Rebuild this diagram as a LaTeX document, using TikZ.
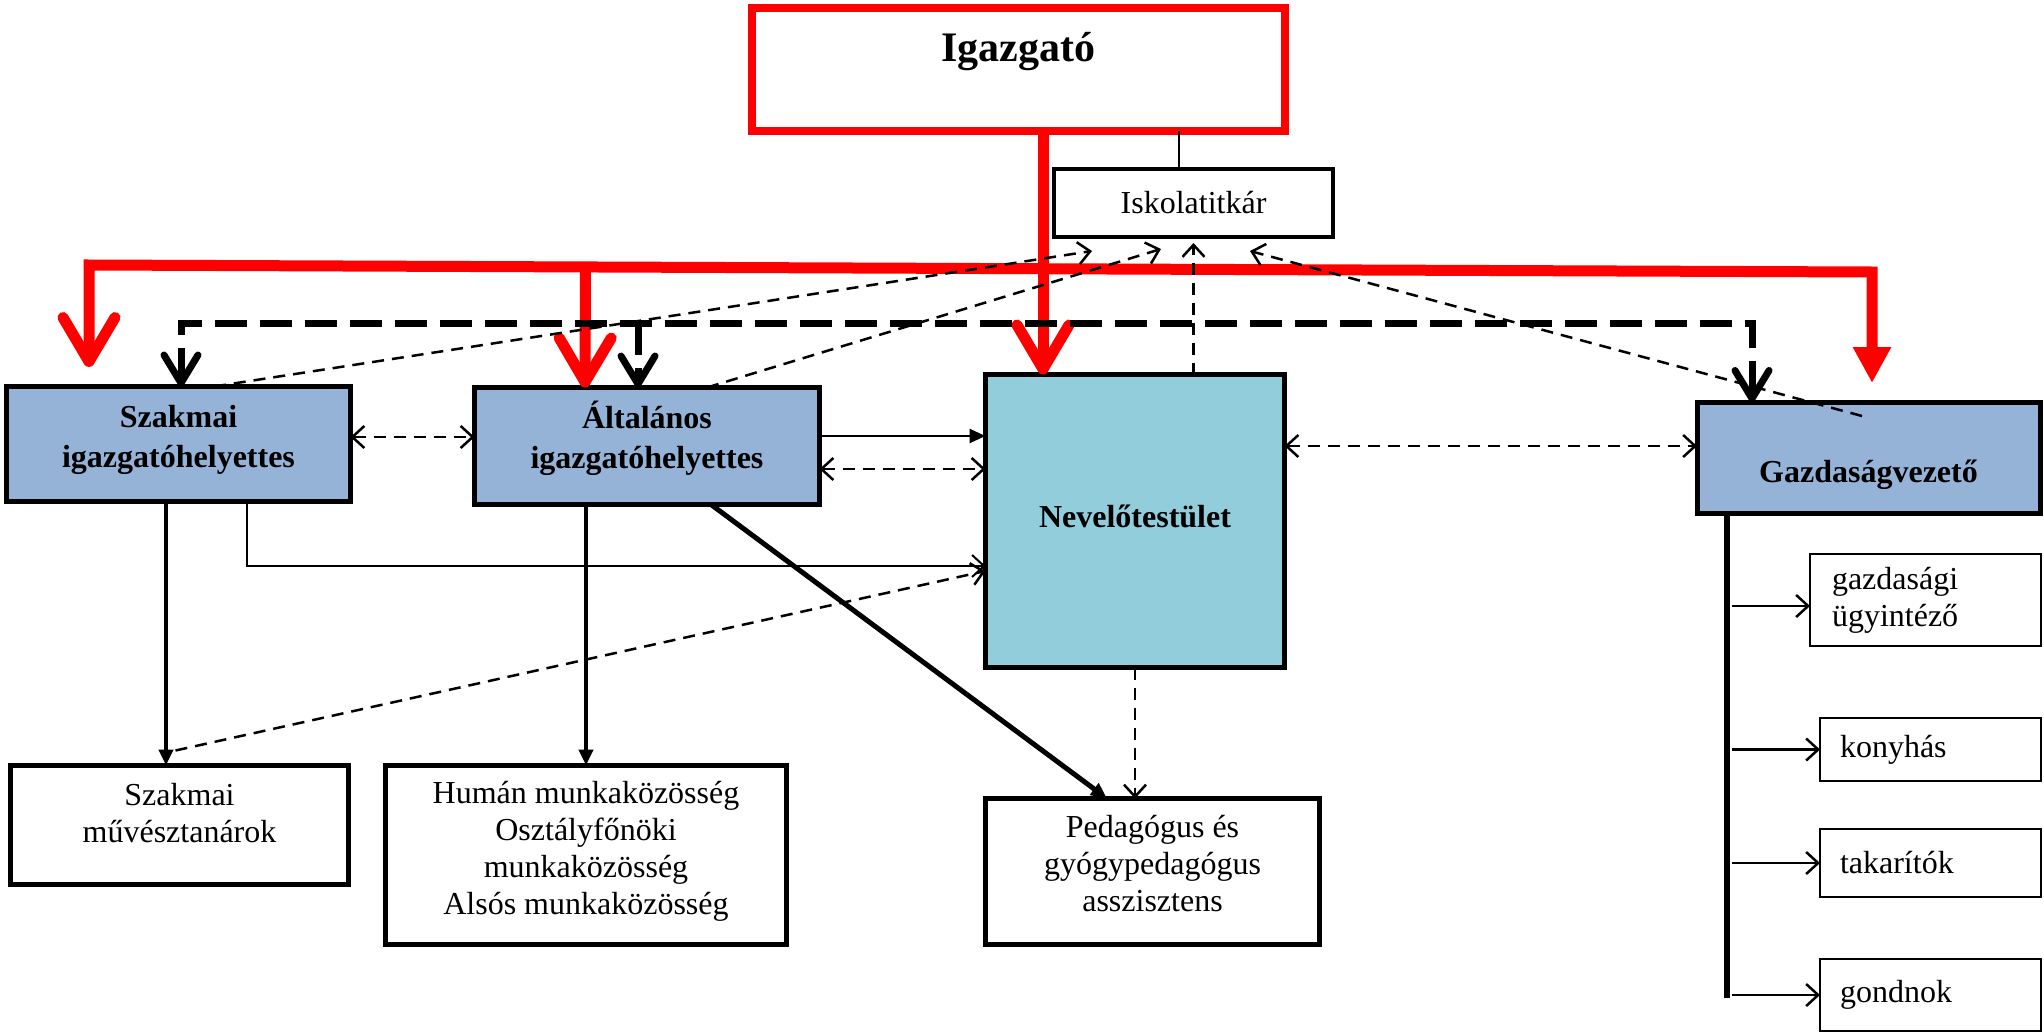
\documentclass[tikz,border=0pt]{standalone}
\usepackage{fontspec}
\setmainfont{Liberation Serif}
\usetikzlibrary{arrows.meta,calc}
\definecolor{boxblue}{HTML}{95B3D7}
\definecolor{nevblue}{HTML}{92CDDC}
\definecolor{ired}{HTML}{FF0000}
\tikzset{
  openV/.tip={Straight Barb[length=12pt,width=22pt]},
  bigV/.tip={Straight Barb[length=28pt,width=34pt,round]},
  redV/.tip={Straight Barb[length=44pt,width=52pt,round]},
  redT/.tip={Triangle[length=36pt,width=36pt]},
  solidT/.tip={Triangle[length=16pt,width=14pt]},
}
\begin{document}
\begin{tikzpicture}[x=1pt,y=-1pt,
  box/.style={draw=black,rectangle,inner sep=0pt,outer sep=0pt,align=center,line width=5pt},
  smallbox/.style={draw=black,rectangle,inner sep=0pt,outer sep=0pt,align=left,line width=2.5pt},
  rmtext/.style={font=\fontsize{32}{37}\selectfont},
  bftext/.style={font=\bfseries\fontsize{32}{40}\selectfont},
  redline/.style={draw=ired,line width=11pt},
  thickdash/.style={line width=7pt,dash pattern=on 32pt off 13pt},
  thindash/.style={line width=2.5pt,dash pattern=on 12pt off 8pt},
]
\useasboundingbox (0,0) rectangle (2044,1033);

% ---- nodes
\node[box, draw=ired, line width=8pt, minimum width=533pt, minimum height=123pt,
      font=\bfseries\fontsize{42}{48}\selectfont, text height=30pt, text depth=45pt]
      (ig) at (1018.5,69.5) {Igazgató};
\node[box, line width=4pt, minimum width=279pt, minimum height=68pt, rmtext]
      (isk) at (1193.5,203) {Iskolatitkár};
\node[box, fill=boxblue, minimum width=344pt, minimum height=115pt,
      label={[name=szht, bftext, align=center, yshift=4pt]center:Szakmai\\igazgatóhelyettes}]
      (szh) at (178.5,444) {};
\node[box, fill=boxblue, minimum width=345pt, minimum height=117pt,
      label={[name=altt, bftext, align=center, yshift=8pt]center:Általános\\igazgatóhelyettes}]
      (alt) at (647,446) {};
\node[box, fill=nevblue, minimum width=299pt, minimum height=293pt, bftext,
      text height=24pt, text depth=12pt]
      (nev) at (1135,521) {Nevelőtestület};
\node[box, fill=boxblue, minimum width=343pt, minimum height=111pt, bftext,
      text height=55pt, text depth=6pt]
      (gazd) at (1868.5,457.5) {Gazdaságvezető};
\node[box, minimum width=338pt, minimum height=119pt,
      label={[name=szmt, rmtext, align=center, yshift=12pt]center:Szakmai\\művésztanárok}]
      (szm) at (179.5,825) {};
\node[box, minimum width=401pt, minimum height=179pt,
      label={[name=humt, rmtext, align=center, yshift=4pt]center:Humán munkaközösség\\Osztályfőnöki\\munkaközösség\\Alsós munkaközösség}]
      (hum) at (586,855) {};
\node[box, minimum width=334pt, minimum height=146pt,
      label={[name=pedt, rmtext, align=center, yshift=8pt]center:Pedagógus és\\gyógypedagógus\\asszisztens}]
      (ped) at (1152.5,871.5) {};
\node[smallbox, minimum width=231pt, minimum height=92pt, inner xsep=22pt, text width=187pt, rmtext]
      (ugy) at (1925.5,600) {gazdasági\\ügyintéző};
\node[smallbox, minimum width=221pt, minimum height=63pt, inner xsep=20pt, text width=181pt, rmtext]
      (kon) at (1930.5,749.5) {konyhás};
\node[smallbox, minimum width=221pt, minimum height=68pt, inner xsep=20pt, text width=181pt, rmtext]
      (tak) at (1930.5,863) {takarítók};
\node[smallbox, minimum width=221pt, minimum height=72pt, inner xsep=20pt, text width=181pt, rmtext]
      (gon) at (1930.5,995) {gondnok};

% ---- Igazgató -> Iskolatitkár
\coordinate (iskT) at ($(isk.north west)+(125,0)$);
\draw[line width=1.5pt] (iskT |- ig.south) -- (iskT);

% ---- red lines
\coordinate (rL) at (89,265);
\coordinate (rR) at (1872,272);
\draw[redline, {redV}-{redT}] ($(szh.north west)+(82.5,-19.5)$) -- (rL) -- (rR)
      -- ($(gazd.north west)+(175,-19)$);
\coordinate (altR) at ($(alt.north west)+(110.5,0)$);
\draw[redline, -{redV}] ($(rL)!(altR)!(rR)$) -- (altR);
\coordinate (nevR) at ($(nev.north west)+(57.5,0)$);
\draw[redline, -{redV}] (nevR |- ig.south) -- (nevR);

% ---- thick dashed bus
\coordinate (bL) at ($(szh.north west)+(174.5,0)$);
\coordinate (bR) at ($(gazd.north west)+(55,0)$);
\coordinate (bA) at ($(alt.north west)+(163.5,0)$);
\draw[thickdash, {bigV}-{bigV}] (bL) -- (bL |- 0,323) -- (bR |- 0,323) -- (bR);
\draw[thickdash, -{bigV}] (bA |- 0,323) -- (bA);

% ---- thin dashed lines to Iskolatitkár
\draw[thindash, -{openV}] ($(szh.north west)+(207.5,0)$) -- ($(isk.south west)+(38,14)$);
\draw[thindash, -{openV}] ($(alt.north west)+(232.5,0)$) -- ($(isk.south west)+(107,12)$);
\draw[thindash, -{openV}] (isk.south |- nev.north) -- ([yshift=-6pt]isk.south);
\draw[thindash, -{openV}] ($(gazd.north west)+(165,14)$) -- ($(isk.south west)+(196,14)$);

% ---- middle row connectors
\draw[thindash, {openV}-{openV}] ([yshift=7pt]szh.east) -- ([yshift=7pt]szh.east -| alt.west);
\draw[line width=2.5pt, -{solidT}] ([yshift=10pt]alt.east) -- ([yshift=10pt]alt.east -| nev.west);
\draw[thindash, {openV}-{openV}] ([yshift=-23pt]alt.east) -- ([yshift=-23pt]alt.east -| nev.west);
\draw[thindash, {openV}-{openV}] ([yshift=75pt]nev.east) -- ([yshift=75pt]nev.east -| gazd.west);

% ---- lower connectors
\coordinate (sA) at ($(szh.south west)+(159.5,0)$);
\coordinate (sB) at ($(szh.south west)+(240.5,0)$);
\draw[line width=4pt, -{solidT}] (sA) -- (sA |- szm.north);
\draw[line width=2pt, -{openV}] (sB) |- ([yshift=-45pt]nev.west);
\draw[thindash, -{openV}] ($(szm.north)+(-4,-15)$) -- ([yshift=-50pt]nev.west);
\draw[line width=4pt, -{solidT}] (alt.south -| hum.north) -- (hum.north);
\draw[line width=5pt, -{solidT}] ($(alt.south west)+(236.5,0)$) -- ($(ped.north west)+(121.5,0)$);
\draw[thindash, -{openV}] (nev.south) -- (nev.south |- ped.north);

% ---- Gazdaságvezető trunk
\coordinate (gT) at ($(gazd.south west)+(30,0)$);
\draw[line width=6pt] (gT) -- (gT |- 0,998);
\draw[line width=2.5pt, -{openV}] ($(gT |- ugy.west)+(5,6)$) -- ([yshift=-6pt]ugy.west);
\foreach \b in {kon,tak,gon}
  \draw[line width=2.5pt, -{openV}] ($(gT |- \b.west)+(5,0)$) -- (\b.west);
\end{tikzpicture}
\end{document}
